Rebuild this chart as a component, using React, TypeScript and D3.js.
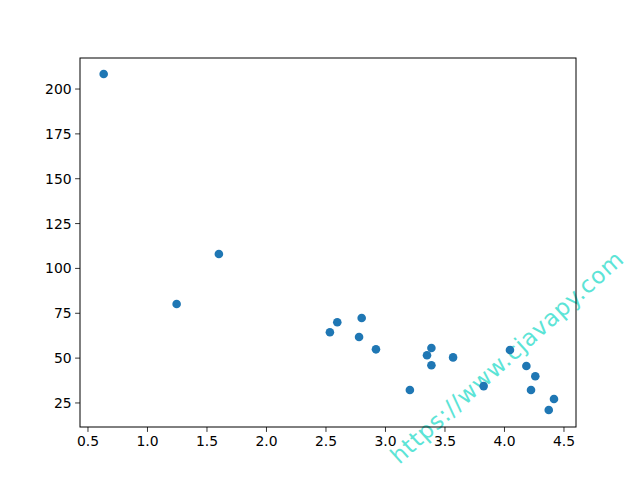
import React from "react";
import * as d3 from "d3";

const xValues = [0.632, 1.245, 1.600, 2.533, 2.595, 2.800, 2.778, 2.920, 3.205, 3.386, 3.349, 3.386, 3.568, 3.825, 4.046, 4.184, 4.259, 4.223, 4.416, 4.372];
const yValues = [208.4, 80.2, 108.0, 64.4, 70.0, 72.4, 61.8, 54.9, 32.2, 55.6, 51.6, 46.0, 50.4, 34.4, 54.5, 45.6, 39.9, 32.2, 27.2, 21.1];
const xTicks = [0.5, 1.0, 1.5, 2.0, 2.5, 3.0, 3.5, 4.0, 4.5];
const yTicks = [25, 50, 75, 100, 125, 150, 175, 200];
const watermark = "https://www.cjavapy.com";

export default function App() {
  const W = 640, H = 480;
  const L = 80, R = 576, T = 58, B = 427;
  const x = d3.scaleLinear().domain([0.433, 4.601]).range([L, R]);
  const y = d3.scaleLinear().domain([11.6, 217.3]).range([B, T]);
  const font = "DejaVu Sans, sans-serif";
  return (
    <svg width={W} height={H} style={{ position: "absolute", left: 0, top: 0, background: "#fff" }}>
      <rect x={0} y={0} width={W} height={H} fill="#fff" />
      <text
        transform="translate(507,357) rotate(-42)"
        textAnchor="middle"
        dy="0.35em"
        fontFamily={font}
        fontSize={23}
        letterSpacing={0.8}
        fill="#40e0d0"
        opacity={0.85}
      >{watermark}</text>
      {xValues.map((v, i) => (
        <circle key={i} cx={x(v)} cy={y(yValues[i])} r={4.3} fill="#1f77b4" />
      ))}
      <rect x={L} y={T} width={R - L} height={B - T} fill="none" stroke="#000" strokeWidth={1} />
      {xTicks.map((t) => (
        <g key={t} transform={`translate(${x(t)},${B})`}>
          <line y1={0} y2={4.9} stroke="#000" strokeWidth={0.8} />
          <text y={19} textAnchor="middle" fontFamily={font} fontSize={13.9} fill="#000">{t.toFixed(1)}</text>
        </g>
      ))}
      {yTicks.map((t) => (
        <g key={t} transform={`translate(${L},${y(t)})`}>
          <line x1={0} x2={-4.9} stroke="#000" strokeWidth={0.8} />
          <text x={-8.4} dy="0.36em" textAnchor="end" fontFamily={font} fontSize={13.9} fill="#000">{t}</text>
        </g>
      ))}
    </svg>
  );
}
